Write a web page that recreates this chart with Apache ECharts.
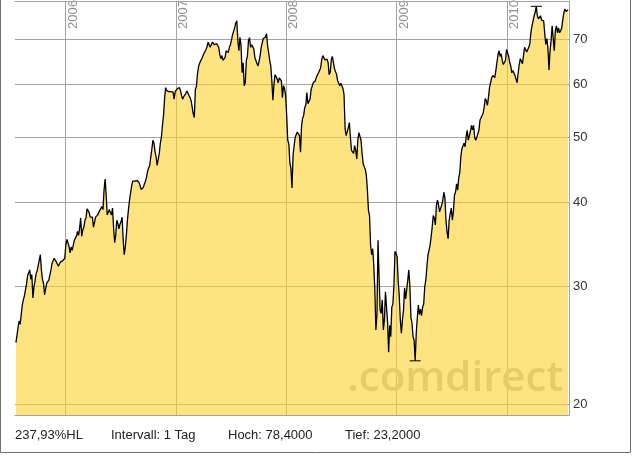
<!DOCTYPE html>
<html>
<head>
<meta charset="utf-8">
<title>Chart</title>
<script src="https://cdn.jsdelivr.net/npm/echarts@6/dist/echarts.min.js"></script>
<style>
  html, body { margin: 0; padding: 0; background: #fff; }
  #chart { width: 632px; height: 456px; }
</style>
</head>
<body>
<div id="chart"></div>
<script>
var firstDate = '2005-07-20';
var lastDate = '2010-07-23';
var closes = [
  24.7, 25.3, 26.0, 26.6, 26.3, 26.2, 28.1, 28.6, 29.0, 29.1,
  30.2, 31.1, 31.4, 31.7, 30.7, 31.2, 28.8, 29.9, 30.5, 31.3,
  31.6, 31.7, 32.8, 33.4, 31.7, 30.7, 30.3, 29.1, 29.2, 30.3,
  30.4, 30.6, 30.8, 31.7, 32.4, 32.6, 33.0, 32.8, 32.6, 32.5,
  32.1, 32.3, 32.6, 32.5, 32.7, 32.8, 33.0, 34.5, 35.2, 35.1,
  34.4, 33.6, 34.3, 33.9, 34.5, 35.1, 35.0, 35.6, 36.2, 35.7,
  36.6, 37.9, 35.6, 36.4, 36.7, 37.6, 37.9, 39.1, 39.0, 38.6,
  38.0, 38.0, 38.0, 36.7, 37.3, 38.0, 38.0, 38.3, 38.4, 38.9,
  39.0, 39.4, 39.0, 41.7, 43.3, 41.0, 38.3, 38.3, 39.0, 38.6,
  38.3, 39.2, 36.6, 34.8, 35.7, 37.6, 37.2, 36.5, 37.1, 37.4,
  38.0, 35.2, 33.4, 34.3, 35.7, 37.6, 39.0, 40.3, 41.3, 42.3,
  43.0, 43.1, 43.0, 43.0, 43.1, 43.1, 42.8, 42.6, 41.8, 41.7,
  42.1, 42.6, 43.0, 43.6, 44.5, 45.0, 45.4, 46.7, 48.0, 49.5,
  49.0, 47.6, 46.8, 45.4, 45.7, 47.3, 49.0, 50.0, 52.1, 53.9,
  57.1, 59.3, 58.7, 58.3, 58.5, 58.7, 58.5, 58.3, 58.4, 57.0,
  58.5, 58.8, 59.1, 59.4, 59.3, 58.7, 57.7, 57.0, 57.5, 57.7,
  58.1, 58.6, 58.4, 57.7, 57.3, 56.7, 56.4, 54.2, 53.5, 58.9,
  59.5, 62.2, 63.7, 64.5, 64.9, 65.5, 65.8, 66.6, 66.9, 67.6,
  68.3, 69.3, 69.2, 68.1, 68.5, 69.3, 69.0, 68.7, 68.5, 69.0,
  68.7, 68.1, 66.4, 65.5, 66.2, 65.1, 65.5, 65.8, 67.3, 67.3,
  66.9, 68.1, 68.7, 69.8, 71.1, 71.3, 72.8, 74.0, 74.6, 69.7,
  67.3, 70.5, 68.5, 62.4, 64.6, 59.7, 60.3, 65.1, 66.0, 69.7,
  70.4, 68.1, 68.7, 68.5, 67.8, 65.8, 65.1, 64.4, 63.9, 64.9,
  66.2, 68.1, 69.2, 70.2, 70.0, 70.5, 71.4, 68.5, 66.9, 65.1,
  63.9, 60.7, 56.8, 59.9, 62.0, 62.0, 61.1, 60.3, 61.3, 61.4,
  60.7, 57.3, 59.7, 59.1, 57.7, 53.9, 49.5, 48.9, 45.8, 44.9,
  42.0, 47.0, 48.6, 50.0, 50.3, 50.9, 50.7, 50.3, 47.5, 52.0,
  53.4, 53.9, 55.4, 55.8, 58.3, 56.1, 55.8, 57.0, 58.9, 59.3,
  60.3, 60.5, 60.7, 61.5, 61.6, 62.4, 62.7, 63.5, 65.3, 66.2,
  66.0, 65.2, 65.3, 65.4, 64.6, 62.0, 62.5, 65.2, 66.0, 66.0,
  63.3, 62.9, 62.0, 60.7, 60.2, 59.7, 60.2, 60.0, 59.1, 57.9,
  51.5, 50.3, 50.5, 51.7, 52.6, 50.0, 47.8, 47.8, 47.3, 48.6,
  47.8, 46.4, 49.5, 50.8, 51.0, 49.5, 47.3, 45.7, 45.2, 44.8,
  43.9, 41.7, 38.9, 38.2, 34.5, 33.4, 34.1, 32.2, 29.6, 25.8,
  27.2, 35.1, 31.0, 27.6, 27.3, 28.6, 25.8, 26.7, 29.4, 27.9,
  26.5, 23.9, 26.2, 25.2, 27.9, 28.2, 30.1, 33.8, 33.7, 33.2,
  30.5, 29.0, 26.7, 25.5, 26.7, 27.6, 29.8, 28.7, 29.6, 30.6,
  31.7, 30.0, 26.9, 26.4, 25.2, 24.9, 23.2, 25.5, 26.9, 28.1,
  27.2, 27.7, 27.1, 27.9, 28.2, 29.9, 30.6, 32.0, 33.3, 33.9,
  34.5, 35.5, 36.7, 38.2, 37.9, 37.0, 39.6, 40.3, 39.6, 38.7,
  39.2, 39.6, 40.3, 41.4, 40.6, 37.6, 36.1, 35.3, 37.6, 38.5,
  39.2, 37.6, 38.7, 41.0, 41.4, 42.6, 41.7, 43.5, 44.3, 46.8,
  48.1, 47.8, 49.0, 48.4, 50.1, 51.2, 49.5, 49.5, 51.0, 52.1,
  51.3, 52.1, 50.0, 49.5, 50.0, 50.6, 51.2, 53.0, 53.2, 53.9,
  54.3, 55.5, 57.1, 56.7, 55.8, 57.3, 59.3, 60.3, 61.3, 61.8,
  62.1, 61.4, 62.9, 64.7, 66.4, 67.3, 66.0, 66.6, 65.1, 64.2,
  64.2, 65.1, 67.6, 67.3, 66.0, 64.7, 63.9, 62.4, 62.9, 62.9,
  61.8, 61.4, 60.3, 62.4, 64.2, 65.5, 64.9, 64.4, 66.2, 68.1,
  68.0, 67.0, 67.3, 68.1, 69.0, 71.7, 73.3, 74.6, 75.9, 76.8,
  78.4, 76.0, 75.1, 75.6, 75.9, 74.8, 74.3, 74.6, 71.4, 68.8,
  70.2, 67.9, 63.0, 67.3, 69.7, 73.3, 70.2, 67.3, 72.1, 73.3,
  71.6, 72.8, 71.6, 72.1, 72.8, 74.9, 76.7, 77.7, 77.0, 77.2,
  77.5
];
var yearTicks = ['2006-01-01', '2007-01-01', '2008-01-01', '2009-01-01', '2010-01-01'];
var priceTicks = [20, 30, 40, 50, 60, 70];
var axisStart = '2005-07-17';
var axisEnd = '2010-07-26';

function toTime(s) {
  var p = s.split('-');
  return new Date(+p[0], +p[1] - 1, +p[2]).getTime();
}
function deNum(v, d) {
  return v.toFixed(d).replace('.', ',');
}

var t0 = toTime(firstDate);
var step = (toTime(lastDate) - t0) / (closes.length - 1);
var seriesData = closes.map(function (v, i) { return [t0 + i * step, v]; });

var hi = Math.max.apply(null, closes);
var lo = Math.min.apply(null, closes);
var hiTime = t0 + closes.indexOf(hi) * step;
var loTime = t0 + closes.indexOf(lo) * step;
var yearTimes = yearTicks.map(toTime);

var gridColor = '#a3a3a3';
var font = 'Liberation Sans, Arial, sans-serif';

var chart = echarts.init(document.getElementById('chart'));
var footer = [
  { x: 15, text: deNum((hi / lo - 1) * 100, 2) + '%HL' },
  { x: 111, text: 'Intervall: 1 Tag' },
  { x: 228, text: 'Hoch: ' + deNum(hi, 4) },
  { x: 345, text: 'Tief: ' + deNum(lo, 4) }
];
var graphics = [{
  type: 'text',
  z: 5,
  x: 563,
  y: 400,
  style: {
    text: '.comdirect',
    fill: '#e7cb68',
    font: '600 42px "Open Sans", sans-serif',
    align: 'right',
    verticalAlign: 'bottom'
  }
}, {
  type: 'rect',
  z: 10,
  shape: { x: 0.5, y: -5, width: 630, height: 457.5 },
  style: { fill: 'none', stroke: '#6e6e6e', lineWidth: 1 }
}];
footer.forEach(function (f) {
  graphics.push({
    type: 'text', x: f.x, y: 435,
    style: { text: f.text, fill: '#222', font: '13px ' + font, verticalAlign: 'middle' }
  });
});

var option = {
  animation: false,
  grid: { left: 15, right: 63, top: 1, bottom: 41, containLabel: false, outerBoundsMode: 'none' },
  xAxis: [{
    type: 'value',
    position: 'top',
    min: toTime(axisStart),
    max: toTime(axisEnd),
    axisLine: { show: true, onZero: false, lineStyle: { color: gridColor, width: 1 } },
    axisTick: { show: false, customValues: yearTimes },
    axisLabel: { show: false },
    splitLine: { show: true, lineStyle: { color: gridColor, width: 1 } }
  }, {
    type: 'value',
    position: 'bottom',
    min: toTime(axisStart),
    max: toTime(axisEnd),
    axisLine: { show: true, onZero: false, lineStyle: { color: gridColor, width: 1 } },
    axisTick: { show: false },
    axisLabel: { show: false },
    splitLine: { show: false }
  }],
  yAxis: {
    type: 'log',
    position: 'right',
    min: 19.26,
    max: 79.85,
    axisLine: { show: true, onZero: false, lineStyle: { color: gridColor, width: 1 } },
    axisTick: { show: false, customValues: priceTicks },
    axisLabel: {
      customValues: priceTicks,
      margin: 4,
      color: '#333',
      fontSize: 13,
      fontFamily: font
    },
    splitLine: { show: true, lineStyle: { color: gridColor, width: 1 } }
  },
  series: [{
    type: 'line',
    data: seriesData,
    symbol: 'none',
    silent: true,
    lineStyle: { color: '#000', width: 1.3 },
    areaStyle: { color: 'rgb(252,210,43)', opacity: 0.6, origin: 'start' },
    markPoint: {
      symbol: 'rect',
      symbolSize: [11, 1],
      silent: true,
      itemStyle: { color: '#000' },
      label: { show: false },
      data: [{ coord: [hiTime, hi] }, { coord: [loTime, lo] }]
    }
  }],
  graphic: graphics
};
chart.setOption(option);

// Jahreszahlen senkrecht rechts neben den Jahreslinien, Lage über die Achse
yearTimes.forEach(function (t, i) {
  var px = chart.convertToPixel({ xAxisIndex: 0 }, t);
  graphics.push({
    type: 'text',
    x: px + 1,
    y: 29,
    rotation: Math.PI / 2,
    style: {
      text: yearTicks[i].slice(0, 4),
      fill: '#909090',
      font: '13px ' + font,
      align: 'left',
      verticalAlign: 'top'
    }
  });
});
chart.setOption({ graphic: graphics });
window.addEventListener('resize', function () { chart.resize(); });
</script>
</body>
</html>
